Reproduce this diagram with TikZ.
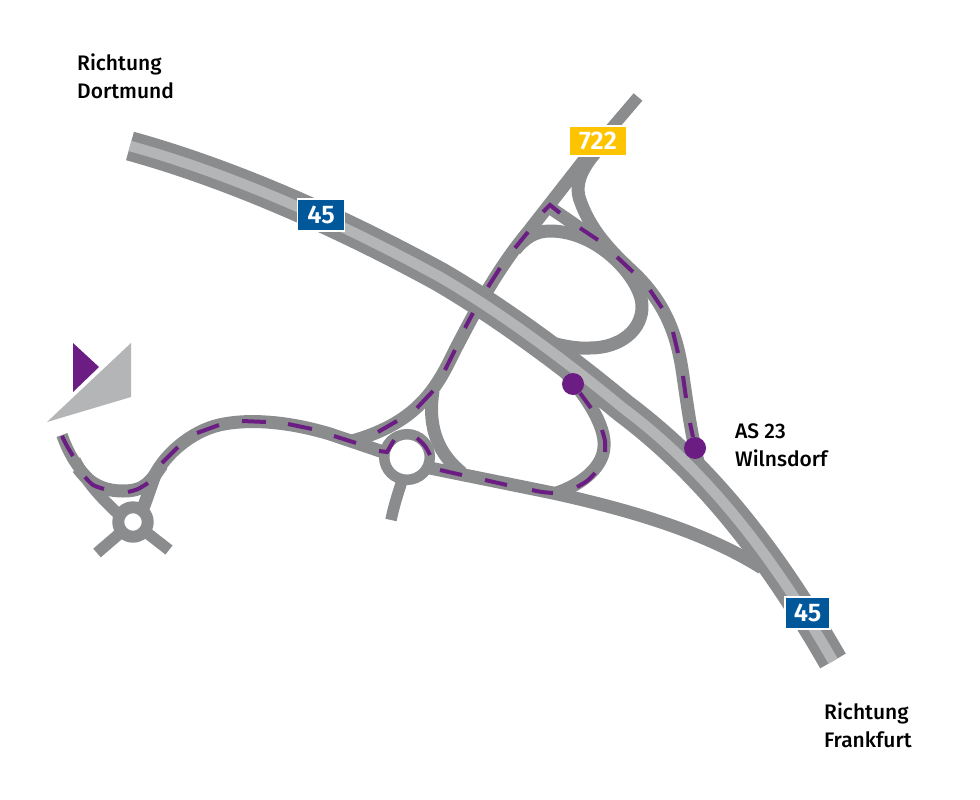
\documentclass[tikz,border=0pt]{standalone}
\usepackage{fontspec}
\setmainfont{Fira Sans Medium}
\newfontfamily\signfont{Fira Sans SemiBold}
\definecolor{roadgray}{HTML}{8A8C8E}
\definecolor{lightgray}{HTML}{B4B5B7}
\definecolor{routepurple}{HTML}{6C1D84}
\definecolor{signblue}{HTML}{00589B}
\definecolor{signyellow}{HTML}{FFC400}
\tikzset{
  ramp/.style={draw=roadgray,line width=13pt,line cap=butt,line join=round},
  armroad/.style={draw=roadgray,line width=11.5pt,line cap=butt},
  ringroad/.style={draw=roadgray,fill=white},
  mway/.style={draw=roadgray,line width=29.5pt},
  mwaymid/.style={draw=lightgray,line width=10.5pt},
  route/.style={draw=routepurple,line width=4pt,line join=miter},
  stopdot/.style={circle,fill=routepurple,minimum size=22pt,inner sep=0pt},
  sign/.style={draw=white,line width=1.5pt,font=\signfont\fontsize{25.5}{25.5}\selectfont,text=white,inner sep=0pt,minimum height=32pt},
  place/.style={align=left,anchor=north west,inner sep=0pt,font=\fontsize{21}{28}\selectfont}
}
\begin{document}
\begin{tikzpicture}[x=1pt,y=-1pt]
\useasboundingbox[fill=white] (0,0) rectangle (980,800);
% compass
\fill[lightgray] (131,343) -- (131,397) -- (47,422) -- cycle;
\fill[routepurple] (73,343) -- (99,367) -- (73,392) -- cycle;
% ramps
\draw[armroad] (638,97) -- (580,165);
\draw[ramp] (585,159) -- (528,232) .. controls (495,272) and (475,312) .. (455,350) .. controls (438,385) and (420,422) .. (352,441);
\draw[ramp] (395,456) -- (330,434) .. controls (290,422) and (250,418) .. (219,425) .. controls (190,432) and (165,455) .. (155,475) .. controls (150,488) and (145,505) .. (138,520);
\draw[armroad] (62,435) .. controls (68,452) and (76,466) .. (88,478);
\draw[ramp] (78,468) .. controls (90,485) and (105,491) .. (123,491) .. controls (145,491) and (150,482) .. (162,465);
\draw[armroad] (75,460) .. controls (85,480) and (100,498) .. (125,520);
\draw[ramp] (433,391) .. controls (427,430) and (440,455) .. (462,473);
\draw[ramp] (420,466) -- (553,493) .. controls (630,510) and (705,532) .. (762,568);
\draw[ramp] (565,372) .. controls (585,395) and (606,425) .. (604,447) .. controls (603,470) and (575,488) .. (553,494);
\draw[ramp] (530,336) .. controls (555,345) and (575,349) .. (590,348) .. controls (620,348) and (643,330) .. (642,305) .. controls (641,280) and (600,231) .. (550,231) .. controls (535,231) and (525,238) .. (515,250);
\draw[ramp] (702,478) .. controls (692,440) and (688,410) .. (683,376) .. controls (678,340) and (668,305) .. (633,272) .. controls (615,255) and (590,232) .. (579,197) .. controls (575,180) and (585,165) .. (596,152);
\draw[ramp] (546,205) .. controls (565,218) and (595,237) .. (625,265);
% roundabouts
\draw[armroad] (133,522) -- (97,553);
\draw[armroad] (133,522) -- (169,550);
\draw[armroad] (403,478) .. controls (399,490) and (394,505) .. (391,520);
\draw[ringroad,line width=12pt] (133,522) circle (14.7pt);
\draw[ringroad,line width=10.5pt] (407,457) circle (22.8pt);
% motorway
\draw[mway] (130,146) .. controls (235,175) and (345,225) .. (440,277) .. controls (500,312) and (565,360) .. (623,408) .. controls (710,473) and (775,560) .. (833,661);
\draw[mwaymid] (130,146) .. controls (235,175) and (345,225) .. (440,277) .. controls (500,312) and (565,360) .. (623,408) .. controls (710,473) and (775,560) .. (833,661);
% route dashes
\foreach \p/\q in {
 {(683,376)}/{(686,398)},
 {(690,423)}/{(693,437)},
 {(673,332)}/{(678,353)},
 {(650,290)}/{(662,308)},
 {(617,257)}/{(633,272)},
 {(580,228)}/{(598,240)},
 {(488,287)}/{(500,268)},
 {(515,248)}/{(528,232)},
 {(465,328)}/{(473,313)},
 {(445,370)}/{(455,350)},
 {(417,408)}/{(433,391)},
 {(378,432)}/{(397,421)},
 {(334,436)}/{(356,443)},
 {(288,424)}/{(312,429)},
 {(242,421)}/{(266,422)},
 {(197,433)}/{(219,425)},
 {(162,463)}/{(178,447)},
 {(580,393)}/{(591,408)},
 {(485,480)}/{(507,485)},
 {(440,470)}/{(462,475)}}
 {\draw[route] \p -- \q;}
\draw[route] (543,212) -- (550,205) -- (560,213);
\draw[route] plot[smooth] coordinates {(602,430) (605,441) (605,452)};
\draw[route] plot[smooth] coordinates {(595,473) (587,481) (577,487)};
\draw[route] plot[smooth] coordinates {(553,493) (542,492) (532,490)};
\draw[route] plot[smooth] coordinates {(430,455) (425,446) (417,438)};
\draw[route] (394,440) -- (387,452) -- (379,451);
\draw[route] plot[smooth] coordinates {(148,483) (138,489) (128,492)};
\draw[route] plot[smooth] coordinates {(104,489) (93,485) (85,477)};
\draw[route] plot[smooth] coordinates {(73,456) (67,446) (62,436)};
% stops
\node[stopdot] (stopA) at (573,384) {};
\node[stopdot] (stopB) at (695,448) {};
% signs
\node[sign,fill=signblue,minimum width=47pt] (signA) at (321,215) {45};
\node[sign,fill=signblue,minimum width=45pt] (signB) at (807.5,613) {45};
\node[sign,fill=signyellow,minimum width=58pt,minimum height=30pt] (signC) at (598,141) {722};
% labels
\node[place] (dortmund) at (77,54) {Richtung\\Dortmund};
\node[place] (wilnsdorf) at (735,423) {AS 23\\Wilnsdorf};
\node[place] (frankfurt) at (824,703) {Richtung\\Frankfurt};
\end{tikzpicture}
\end{document}
